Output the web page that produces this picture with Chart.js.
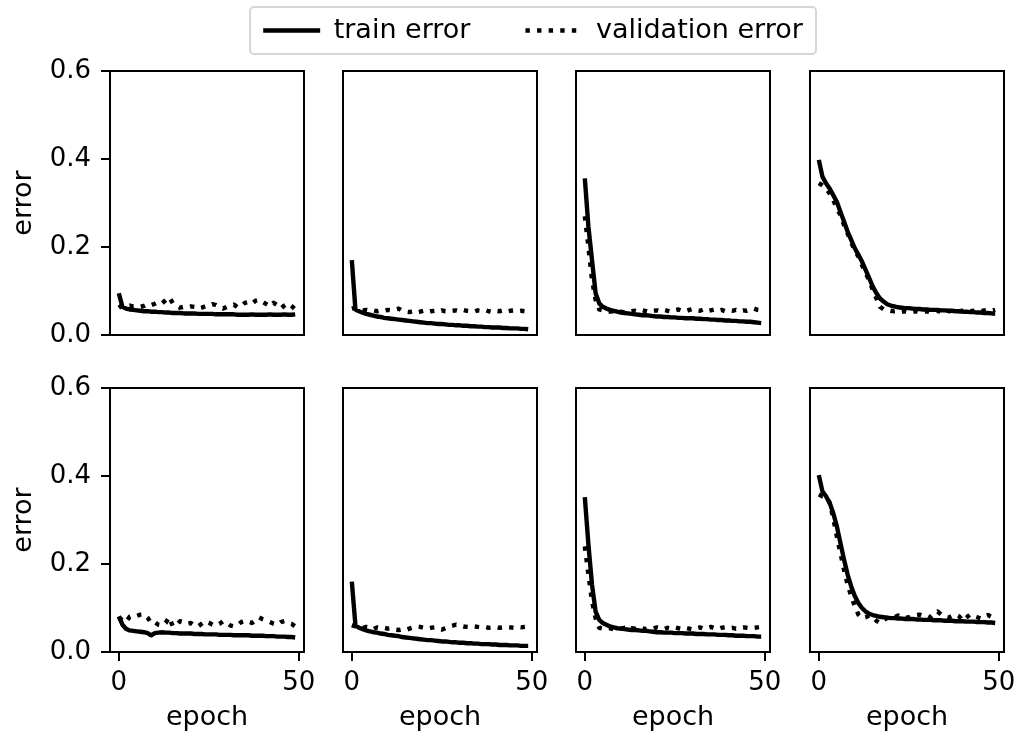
<!DOCTYPE html>
<html>
<head>
<meta charset="utf-8">
<script src="https://cdn.jsdelivr.net/npm/chart.js@4.4.0/dist/chart.umd.min.js"></script>
<style>
  body { margin: 0; background: #fff; }
  #fig { position: relative; width: 1029px; height: 736px; overflow: hidden; background: #fff; }
  #fig canvas { position: absolute; }
  .legend-box { position: absolute; left: 249px; top: 6px; width: 564px; height: 45px; border: 2px solid #d6d6d6; border-radius: 5px; }
</style>
</head>
<body>
<div id="fig">
  <div class="legend-box"></div>
</div>
<script>
const epochs = [0, 1, 2, 3, 4, 5, 6, 7, 8, 9, 10, 11, 12, 13, 14, 15, 16, 17, 18, 19,
  20, 21, 22, 23, 24, 25, 26, 27, 28, 29, 30, 31, 32, 33, 34, 35, 36, 37, 38, 39,
  40, 41, 42, 43, 44, 45, 46, 47, 48, 49];
const xTicks = [0, 50];
const yTicks = [0, 0.2, 0.4, 0.6];
const legendLabels = ['train error', 'validation error'];

// top row
const trainTop1 = [0.095, 0.064, 0.060, 0.058, 0.057, 0.056, 0.055, 0.054, 0.054, 0.053,
  0.053, 0.052, 0.052, 0.051, 0.051, 0.050, 0.050, 0.050, 0.049, 0.049,
  0.049, 0.049, 0.048, 0.048, 0.048, 0.048, 0.048, 0.047, 0.047, 0.047,
  0.047, 0.047, 0.047, 0.046, 0.046, 0.046, 0.046, 0.047, 0.046, 0.046,
  0.046, 0.046, 0.047, 0.046, 0.046, 0.046, 0.047, 0.046, 0.046, 0.047];
const valTop1 = [0.062, 0.068, 0.066, 0.067, 0.065, 0.066, 0.064, 0.066, 0.070, 0.068,
  0.071, 0.075, 0.072, 0.079, 0.086, 0.072, 0.066, 0.062, 0.064, 0.063,
  0.065, 0.064, 0.060, 0.062, 0.065, 0.066, 0.070, 0.068, 0.063, 0.060,
  0.064, 0.066, 0.069, 0.063, 0.066, 0.073, 0.075, 0.071, 0.078, 0.080,
  0.075, 0.070, 0.065, 0.073, 0.068, 0.060, 0.067, 0.072, 0.066, 0.058];
const trainTop2 = [0.170, 0.058, 0.054, 0.051, 0.048, 0.046, 0.044, 0.042, 0.041, 0.039,
  0.038, 0.037, 0.036, 0.035, 0.034, 0.033, 0.032, 0.031, 0.030, 0.029,
  0.028, 0.027, 0.027, 0.026, 0.025, 0.025, 0.024, 0.023, 0.023, 0.022,
  0.022, 0.021, 0.021, 0.020, 0.020, 0.019, 0.019, 0.018, 0.018, 0.017,
  0.017, 0.017, 0.016, 0.016, 0.015, 0.015, 0.015, 0.014, 0.014, 0.013];
const valTop2 = [0.060, 0.062, 0.058, 0.056, 0.057, 0.055, 0.056, 0.054, 0.056, 0.055,
  0.057, 0.056, 0.058, 0.060, 0.055, 0.053, 0.052, 0.054, 0.051, 0.053,
  0.055, 0.052, 0.054, 0.055, 0.053, 0.056, 0.054, 0.053, 0.055, 0.056,
  0.054, 0.057, 0.055, 0.054, 0.053, 0.056, 0.055, 0.057, 0.054, 0.052,
  0.055, 0.054, 0.056, 0.053, 0.055, 0.056, 0.054, 0.055, 0.054, 0.055];
const trainTop3 = [0.356, 0.246, 0.170, 0.095, 0.072, 0.064, 0.060, 0.057, 0.055, 0.053,
  0.051, 0.050, 0.049, 0.048, 0.047, 0.046, 0.045, 0.045, 0.044, 0.043,
  0.042, 0.042, 0.041, 0.041, 0.040, 0.040, 0.039, 0.039, 0.038, 0.038,
  0.038, 0.037, 0.037, 0.036, 0.036, 0.035, 0.035, 0.034, 0.034, 0.033,
  0.033, 0.032, 0.032, 0.031, 0.031, 0.030, 0.030, 0.029, 0.028, 0.027];
const valTop3 = [0.270, 0.200, 0.125, 0.080, 0.058, 0.056, 0.054, 0.053, 0.054, 0.052,
  0.053, 0.051, 0.052, 0.054, 0.055, 0.053, 0.056, 0.054, 0.052, 0.055,
  0.056, 0.054, 0.057, 0.055, 0.053, 0.056, 0.058, 0.055, 0.054, 0.057,
  0.059, 0.056, 0.055, 0.058, 0.054, 0.056, 0.058, 0.055, 0.057, 0.054,
  0.056, 0.055, 0.057, 0.054, 0.056, 0.055, 0.058, 0.060, 0.057, 0.056];
const trainTop4 = [0.398, 0.360, 0.345, 0.333, 0.318, 0.303, 0.280, 0.258, 0.235, 0.216,
  0.197, 0.182, 0.167, 0.148, 0.129, 0.110, 0.095, 0.083, 0.076, 0.070,
  0.067, 0.065, 0.063, 0.062, 0.061, 0.061, 0.060, 0.059, 0.059, 0.058,
  0.058, 0.057, 0.057, 0.057, 0.056, 0.056, 0.055, 0.055, 0.054, 0.054,
  0.053, 0.053, 0.052, 0.052, 0.051, 0.051, 0.050, 0.050, 0.049, 0.049];
const valTop4 = [0.345, 0.340, 0.333, 0.322, 0.307, 0.288, 0.273, 0.250, 0.231, 0.210,
  0.193, 0.178, 0.159, 0.140, 0.125, 0.102, 0.083, 0.064, 0.058, 0.057,
  0.055, 0.054, 0.055, 0.053, 0.054, 0.052, 0.053, 0.054, 0.052, 0.053,
  0.054, 0.052, 0.053, 0.055, 0.053, 0.052, 0.054, 0.055, 0.053, 0.054,
  0.055, 0.056, 0.054, 0.055, 0.057, 0.054, 0.056, 0.057, 0.055, 0.057];

// bottom row
const trainBottom1 = [0.081, 0.062, 0.053, 0.049, 0.048, 0.047, 0.046, 0.045, 0.043, 0.038,
  0.043, 0.044, 0.045, 0.044, 0.044, 0.043, 0.043, 0.042, 0.042, 0.042,
  0.042, 0.041, 0.041, 0.041, 0.040, 0.040, 0.040, 0.040, 0.039, 0.039,
  0.039, 0.039, 0.038, 0.038, 0.038, 0.038, 0.038, 0.037, 0.037, 0.037,
  0.037, 0.036, 0.036, 0.036, 0.035, 0.035, 0.035, 0.034, 0.034, 0.033];
const valBottom1 = [0.079, 0.072, 0.068, 0.080, 0.084, 0.082, 0.085, 0.086, 0.078, 0.066,
  0.068, 0.062, 0.060, 0.066, 0.079, 0.058, 0.062, 0.070, 0.068, 0.064,
  0.066, 0.060, 0.058, 0.064, 0.070, 0.067, 0.062, 0.060, 0.064, 0.070,
  0.066, 0.060, 0.058, 0.061, 0.068, 0.071, 0.069, 0.066, 0.072, 0.079,
  0.074, 0.071, 0.068, 0.064, 0.062, 0.068, 0.070, 0.066, 0.064, 0.058];
const trainBottom2 = [0.160, 0.061, 0.055, 0.052, 0.049, 0.047, 0.045, 0.044, 0.042, 0.041,
  0.039, 0.038, 0.037, 0.036, 0.034, 0.033, 0.032, 0.031, 0.030, 0.029,
  0.028, 0.027, 0.027, 0.026, 0.025, 0.024, 0.024, 0.023, 0.022, 0.022,
  0.021, 0.021, 0.020, 0.020, 0.019, 0.019, 0.018, 0.018, 0.018, 0.017,
  0.017, 0.016, 0.016, 0.016, 0.015, 0.015, 0.015, 0.014, 0.014, 0.014];
const valBottom2 = [0.061, 0.058, 0.056, 0.054, 0.057, 0.055, 0.052, 0.056, 0.054, 0.055,
  0.053, 0.054, 0.051, 0.050, 0.052, 0.050, 0.053, 0.056, 0.058, 0.057,
  0.055, 0.053, 0.055, 0.056, 0.053, 0.051, 0.054, 0.058, 0.060, 0.062,
  0.060, 0.058, 0.057, 0.056, 0.058, 0.057, 0.056, 0.057, 0.055, 0.056,
  0.057, 0.055, 0.056, 0.057, 0.056, 0.055, 0.057, 0.056, 0.057, 0.058];
const trainBottom3 = [0.352, 0.244, 0.153, 0.092, 0.073, 0.066, 0.062, 0.058, 0.056, 0.054,
  0.053, 0.052, 0.051, 0.050, 0.050, 0.049, 0.048, 0.048, 0.047, 0.046,
  0.045, 0.045, 0.044, 0.044, 0.044, 0.043, 0.043, 0.043, 0.042, 0.042,
  0.042, 0.041, 0.041, 0.041, 0.040, 0.040, 0.040, 0.039, 0.039, 0.039,
  0.038, 0.038, 0.037, 0.037, 0.037, 0.036, 0.036, 0.036, 0.035, 0.035];
const valBottom3 = [0.240, 0.176, 0.115, 0.077, 0.055, 0.053, 0.055, 0.054, 0.052, 0.054,
  0.053, 0.055, 0.052, 0.054, 0.053, 0.051, 0.054, 0.052, 0.055, 0.053,
  0.056, 0.054, 0.052, 0.055, 0.053, 0.056, 0.054, 0.052, 0.055, 0.053,
  0.051, 0.054, 0.056, 0.053, 0.055, 0.057, 0.054, 0.052, 0.055, 0.056,
  0.054, 0.055, 0.053, 0.054, 0.056, 0.055, 0.054, 0.055, 0.056, 0.057];
const trainBottom4 = [0.402, 0.365, 0.354, 0.339, 0.316, 0.286, 0.248, 0.210, 0.176, 0.149,
  0.127, 0.111, 0.100, 0.092, 0.087, 0.084, 0.082, 0.080, 0.079, 0.078,
  0.077, 0.077, 0.076, 0.076, 0.075, 0.075, 0.075, 0.074, 0.074, 0.073,
  0.073, 0.073, 0.072, 0.072, 0.072, 0.071, 0.071, 0.071, 0.070, 0.070,
  0.070, 0.069, 0.069, 0.069, 0.068, 0.068, 0.068, 0.067, 0.067, 0.066];
const valBottom4 = [0.358, 0.354, 0.354, 0.339, 0.305, 0.263, 0.225, 0.187, 0.153, 0.127,
  0.104, 0.085, 0.077, 0.079, 0.083, 0.079, 0.071, 0.066, 0.073, 0.077,
  0.081, 0.079, 0.083, 0.080, 0.077, 0.079, 0.082, 0.084, 0.085, 0.082,
  0.083, 0.079, 0.086, 0.092, 0.085, 0.080, 0.078, 0.082, 0.085, 0.081,
  0.071, 0.078, 0.085, 0.082, 0.079, 0.076, 0.081, 0.084, 0.080, 0.089];

const panels = [
  [trainTop1, valTop1], [trainTop2, valTop2], [trainTop3, valTop3], [trainTop4, valTop4],
  [trainBottom1, valBottom1], [trainBottom2, valBottom2], [trainBottom3, valBottom3], [trainBottom4, valBottom4],
];

Chart.defaults.font.family = "'DejaVu Sans', sans-serif";
Chart.defaults.font.size = 26;
Chart.defaults.color = '#000';
Chart.defaults.animation = false;

const LINE_W = 4.4;
const DOTS = [4.4, 7.2];

// black box round each plot area, drawn over the lines like matplotlib spines
const frame = {
  id: 'frame',
  afterDatasetsDraw(chart) {
    const { ctx, chartArea: a } = chart;
    ctx.save();
    ctx.strokeStyle = '#000';
    ctx.lineWidth = 2;
    ctx.strokeRect(a.left, a.top, a.right - a.left, a.bottom - a.top);
    ctx.restore();
  }
};

const fig = document.getElementById('fig');
function addCanvas(left, top, width, height) {
  const c = document.createElement('canvas');
  c.width = width;
  c.height = height;
  c.style.left = left + 'px';
  c.style.top = top + 'px';
  c.style.width = width + 'px';
  c.style.height = height + 'px';
  fig.appendChild(c);
  return c;
}

const colLeft = [110, 343, 576, 810];
const rowTop = [71, 388];
const panelW = 194, panelH = 264;
const tickGrid = { display: true, drawOnChartArea: false, drawTicks: true, tickLength: 9, color: '#000', lineWidth: 2 };

panels.forEach((p, i) => {
  const row = Math.floor(i / 4), col = i % 4;
  const padL = col === 0 ? 0 : 10;
  const axisW = col === 0 ? 110 : 0;
  const axisH = row === 1 ? 79 : 0;
  // room for the tick labels that stick out of the plot box
  const padT = 28, padR = 32, padB = 28;
  const canvas = addCanvas(colLeft[col] - axisW - padL, rowTop[row] - padT,
    axisW + padL + panelW + padR, padT + panelH + axisH + padB);

  new Chart(canvas, {
    type: 'line',
    data: {
      datasets: [
        {
          label: legendLabels[0],
          data: epochs.map((e, k) => ({ x: e, y: p[0][k] })),
          borderColor: '#000',
          borderWidth: LINE_W,
          borderJoinStyle: 'round',
          pointRadius: 0,
        },
        {
          label: legendLabels[1],
          data: epochs.map((e, k) => ({ x: e, y: p[1][k] })),
          borderColor: '#000',
          borderWidth: LINE_W,
          borderDash: DOTS,
          borderJoinStyle: 'round',
          pointRadius: 0,
        },
      ],
    },
    options: {
      responsive: false,
      devicePixelRatio: 1,
      layout: { autoPadding: false, padding: { left: padL, right: padR, top: padT, bottom: padB } },
      plugins: { legend: { display: false }, tooltip: { enabled: false } },
      scales: {
        x: {
          type: 'linear',
          display: row === 1,
          min: -2.45,
          max: 51.45,
          afterBuildTicks: (s) => { s.ticks = xTicks.map((v) => ({ value: v })); },
          afterFit: (s) => { s.height = axisH; },
          grid: tickGrid,
          border: { display: false },
          ticks: { padding: 9, autoSkip: false, maxRotation: 0, font: { lineHeight: 1 } },
          title: { display: true, text: 'epoch', padding: 0, font: { size: 27, lineHeight: 1 } },
        },
        y: {
          type: 'linear',
          display: col === 0,
          min: 0,
          max: 0.6,
          afterBuildTicks: (s) => { s.ticks = yTicks.map((v) => ({ value: v })); },
          afterFit: (s) => { s.width = axisW; },
          grid: tickGrid,
          border: { display: false },
          ticks: { padding: 10, callback: (v) => v.toFixed(1), font: { lineHeight: 1 } },
          title: { display: true, text: 'error', padding: { top: 10.5, bottom: 0 }, font: { size: 27, lineHeight: 1 } },
        },
      },
    },
    plugins: [frame],
  });
});

// legend-only chart sitting inside the grey box at the top
const legendPad = 55;
const legendCanvas = addCanvas(133, 16.5 - legendPad, 800, 200);
new Chart(legendCanvas, {
  type: 'line',
  data: {
    datasets: [
      { label: legendLabels[0], data: [], borderColor: '#000', borderWidth: LINE_W },
      { label: legendLabels[1], data: [], borderColor: '#000', borderWidth: LINE_W, borderDash: DOTS },
    ],
  },
  options: {
    responsive: false,
    devicePixelRatio: 1,
    layout: { padding: 0 },
    scales: { x: { display: false }, y: { display: false } },
    plugins: {
      tooltip: { enabled: false },
      legend: {
        display: true,
        position: 'top',
        labels: {
          usePointStyle: true,
          pointStyle: 'line',
          pointStyleWidth: 57,
          padding: legendPad,
          color: '#000',
          font: { size: 27, lineHeight: 1 },
          // point-style items lose the dash pattern, so put it back
          generateLabels: (chart) => Chart.defaults.plugins.legend.labels.generateLabels(chart)
            .map((item, k) => ({ ...item, lineDash: chart.data.datasets[k].borderDash || [] })),
        },
      },
    },
  },
});
</script>
</body>
</html>
